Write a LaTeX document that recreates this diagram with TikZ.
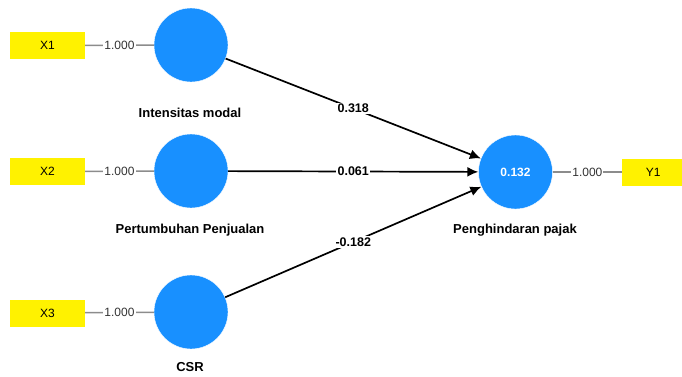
\documentclass[tikz,border=0pt]{standalone}
\usepackage{fontspec}
\setmainfont{Liberation Sans}
\usepackage{tikz}
\usetikzlibrary{arrows.meta,positioning}
\definecolor{lvblue}{RGB}{24,144,255}
\tikzstyle{construct}=[circle,fill=lvblue,draw=white,minimum size=74pt,inner sep=0pt,text=white,font=\bfseries\fontsize{12}{14}\selectfont]
\tikzstyle{indicator}=[rectangle,fill=yellow,minimum width=75pt,minimum height=27pt,inner sep=0pt,font=\fontsize{12}{14}\selectfont]
\tikzstyle{caption}=[font=\bfseries\fontsize{13}{15}\selectfont]
\tikzstyle{loading}=[draw=gray!90,line width=1.5pt]
\tikzstyle{loadlabel}=[fill=white,inner sep=1pt,font=\fontsize{12}{14}\selectfont,text=black!80]
\tikzstyle{path}=[-{Latex[length=11pt,width=10pt]},draw=black,line width=1.7pt]
\tikzstyle{pathlabel}=[fill=white,inner sep=1.5pt,font=\bfseries\fontsize{12.5}{14}\selectfont]

\begin{document}
\begin{tikzpicture}[x=1pt,y=-1pt]
    \useasboundingbox (0,0) rectangle (682,376);

    \node[construct] (modal) at (191,45) {};
    \node[construct] (jual) at (191,171) {};
    \node[construct] (csr) at (191,312) {};
    \node[construct] (pajak) at (515.5,172) {0.132};

    \node[indicator] (x1) at (47.5,45.5) {X1};
    \node[indicator] (x2) at (47.5,171.5) {X2};
    \node[indicator] (x3) at (47.5,313) {X3};
    \node[indicator,minimum width=62pt,anchor=west] (y1) at (622,172) {Y1};

    \node[caption] (lmodal) at (190,113) {Intensitas modal};
    \node[caption] (ljual) at (190,230) {Pertumbuhan Penjualan};
    \node[caption] (lcsr) at (190,367) {CSR};
    \node[caption] (lpajak) at (515,230) {Penghindaran pajak};

    \draw[loading] (x1) -- node[loadlabel] {1.000} (modal);
    \draw[loading] (x2) -- node[loadlabel] {1.000} (jual);
    \draw[loading] (x3) -- node[loadlabel] {1.000} (csr);
    \draw[loading] (pajak) -- node[loadlabel] {1.000} (y1);

    \draw[path] (modal) -- node[pathlabel] {0.318} (pajak);
    \draw[path] (jual) -- node[pathlabel] {0.061} (pajak);
    \draw[path] (csr) -- node[pathlabel] {-0.182} (pajak);
\end{tikzpicture}
\end{document}
